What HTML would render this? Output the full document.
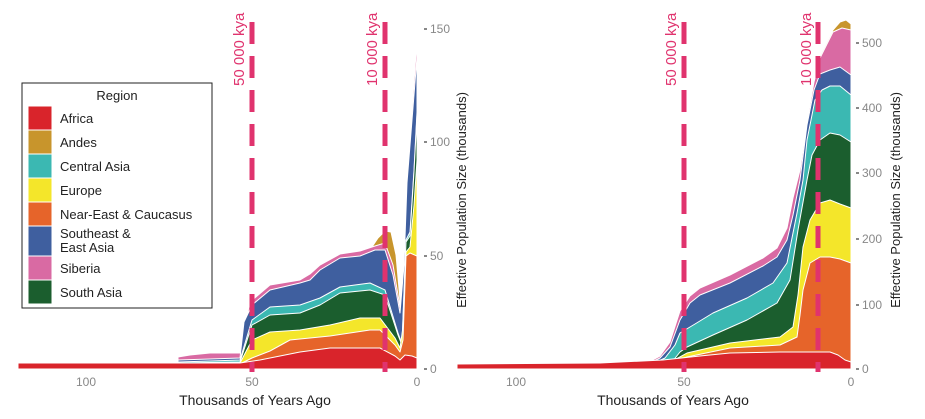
<!DOCTYPE html>
<html><head><meta charset="utf-8"><style>
body{margin:0;background:#fff;}
svg{display:block;font-family:"Liberation Sans",sans-serif;}
</style></head><body>
<svg width="925" height="419" viewBox="0 0 925 419">
<g stroke="#fff" stroke-width="1" stroke-linejoin="round">
<!-- LEFT PANEL -->
<path fill="#c8952c" d="M372,369 L372,247 378,238 385,231 391,232 396,255 400,300 L400,369Z"/>
<path fill="#d96aa3" d="M178,369 L178,357 190,355 210,353 240,353 244,330 250,302 270,285 300,280 310,274 320,265 340,254 360,251 375,246 385,243 393,265 400,307 404,262 407,180 412,110 417,40 L417,369Z"/>
<path fill="#3f5f9f" d="M178,369 L178,360 210,359 240,358 244,322 252,305 270,290 300,283 310,280 320,270 340,258 360,256 375,250 385,250 393,275 400,313 404,265 407,183 412,120 417,57 L417,369Z"/>
<path fill="#3bb8b2" d="M178,369 L178,362 210,361 240,360 252,320 270,307 300,305 320,298 340,287 370,283 385,290 398,333 402,344 406,240 410,232 414,170 417,112 L417,369Z"/>
<path fill="#1b5e2e" d="M178,369 L178,363 240,362 252,325 270,315 300,313 320,305 340,293 370,290 385,295 398,335 402,345 406,242 410,236 414,172 417,115 L417,369Z"/>
<path fill="#f4e62a" d="M18,369 L18,364 240,363 252,340 270,332 300,330 330,325 360,318 380,318 395,338 400,348 404,320 406,252 410,247 414,205 417,160 L417,369Z"/>
<path fill="#e6642a" d="M18,369 L18,364 240,364 252,358 270,351 290,340 330,336 370,330 380,330 395,345 400,352 403,340 406,256 410,253 417,256 L417,369Z"/>
<path fill="#d9242b" d="M18,369 L18,363 240,363 260,360 300,352 330,348 380,348 395,356 400,360 405,355 412,356 417,358 L417,369Z"/>
<!-- RIGHT PANEL -->
<path fill="#c8952c" d="M814,369 L814,82 820,56 827,42 833,30 840,22 846,20 851,24 L851,369Z"/>
<path fill="#d96aa3" d="M635,369 L645,364 660,356 670,342 680,311 690,296 700,288 730,275 763,258 777,248 787,228 793,198 800,170 807,122 814,82 820,58 827,44 833,32 842,28 851,30 L851,369Z"/>
<path fill="#3f5f9f" d="M638,369 L648,364 660,358 670,347 680,320 690,303 700,295 730,283 763,266 777,257 787,240 793,215 800,180 807,125 814,90 820,74 830,70 840,67 851,75 L851,369Z"/>
<path fill="#3bb8b2" d="M638,369 L650,365 665,358 675,345 680,333 695,324 713,313 747,298 773,283 787,263 797,213 803,180 807,140 815,100 822,90 830,86 840,86 851,95 L851,369Z"/>
<path fill="#1b5e2e" d="M645,369 L660,366 672,362 680,352 687,347 713,335 747,320 777,303 790,280 798,230 807,180 812,155 820,140 830,133 840,135 851,142 L851,369Z"/>
<path fill="#f4e62a" d="M650,369 L665,365 678,358 687,353 730,343 780,337 793,327 798,295 803,247 810,220 820,203 830,200 840,204 851,208 L851,369Z"/>
<path fill="#e6642a" d="M645,369 L660,365 675,361 687,357 730,348 780,345 797,337 800,315 803,290 810,263 820,257 830,257 840,259 851,263 L851,369Z"/>
<path fill="#d9242b" d="M457,369 L457,364 600,363 663,360 700,356 730,353 780,352 830,352 838,355 845,360 851,362 L851,369Z"/>
</g>
<!-- dashed lines -->
<g stroke="#e0336e" stroke-width="5" stroke-dasharray="22,12">
<line x1="252" y1="22" x2="252" y2="372"/>
<line x1="385" y1="22" x2="385" y2="372"/>
<line x1="684" y1="22" x2="684" y2="372"/>
<line x1="818" y1="22" x2="818" y2="372"/>
</g>
<g fill="#e0336e" font-size="15">
<text transform="translate(244,86) rotate(-90)">50 000 kya</text>
<text transform="translate(377,86) rotate(-90)">10 000 kya</text>
<text transform="translate(676,86) rotate(-90)">50 000 kya</text>
<text transform="translate(811,86) rotate(-90)">10 000 kya</text>
</g>
<!-- axes ticks -->
<g fill="#888" font-size="12">
<text x="86" y="386" text-anchor="middle">100</text>
<text x="252" y="386" text-anchor="middle">50</text>
<text x="417" y="386" text-anchor="middle">0</text>
<text x="516" y="386" text-anchor="middle">100</text>
<text x="684" y="386" text-anchor="middle">50</text>
<text x="851" y="386" text-anchor="middle">0</text>
<text x="430" y="373">0</text><text x="430" y="260">50</text><text x="430" y="146">100</text><text x="430" y="33">150</text>
<text x="862" y="373">0</text><text x="862" y="309">100</text><text x="862" y="243">200</text><text x="862" y="177">300</text><text x="862" y="112">400</text><text x="862" y="47">500</text>
</g>
<g fill="#888">
<rect x="424" y="368" width="3" height="2"/><rect x="424" y="255" width="3" height="2"/><rect x="424" y="141" width="3" height="2"/><rect x="424" y="28" width="3" height="2"/>
<rect x="856" y="368" width="3" height="2"/><rect x="856" y="304" width="3" height="2"/><rect x="856" y="238" width="3" height="2"/><rect x="856" y="172" width="3" height="2"/><rect x="856" y="107" width="3" height="2"/><rect x="856" y="42" width="3" height="2"/>
</g>
<g fill="#222" font-size="14">
<text x="255" y="405" text-anchor="middle">Thousands of Years Ago</text>
<text x="673" y="405" text-anchor="middle">Thousands of Years Ago</text>
<text transform="translate(466,200) rotate(-90)" text-anchor="middle" font-size="13">Effective Population Size (thousands)</text>
<text transform="translate(900,200) rotate(-90)" text-anchor="middle" font-size="13">Effective Population Size (thousands)</text>
</g>
<!-- legend -->
<rect x="22" y="83" width="190" height="225" fill="#fff" stroke="#222" stroke-width="1"/>
<text x="117" y="100" text-anchor="middle" font-size="13" fill="#222">Region</text>
<g stroke="#fff" stroke-width="1">
<rect x="28" y="106" width="24" height="24" fill="#d9242b"/>
<rect x="28" y="130" width="24" height="24" fill="#c8952c"/>
<rect x="28" y="154" width="24" height="24" fill="#3bb8b2"/>
<rect x="28" y="178" width="24" height="24" fill="#f4e62a"/>
<rect x="28" y="202" width="24" height="24" fill="#e6642a"/>
<rect x="28" y="226" width="24" height="30" fill="#3f5f9f"/>
<rect x="28" y="256" width="24" height="24" fill="#d96aa3"/>
<rect x="28" y="280" width="24" height="24" fill="#1b5e2e"/>
</g>
<g fill="#222" font-size="13">
<text x="60" y="123">Africa</text>
<text x="60" y="147">Andes</text>
<text x="60" y="171">Central Asia</text>
<text x="60" y="195">Europe</text>
<text x="60" y="219">Near-East &amp; Caucasus</text>
<text x="60" y="238">Southeast &amp;</text>
<text x="60" y="252">East Asia</text>
<text x="60" y="273">Siberia</text>
<text x="60" y="297">South Asia</text>
</g>
</svg>
</body></html>
